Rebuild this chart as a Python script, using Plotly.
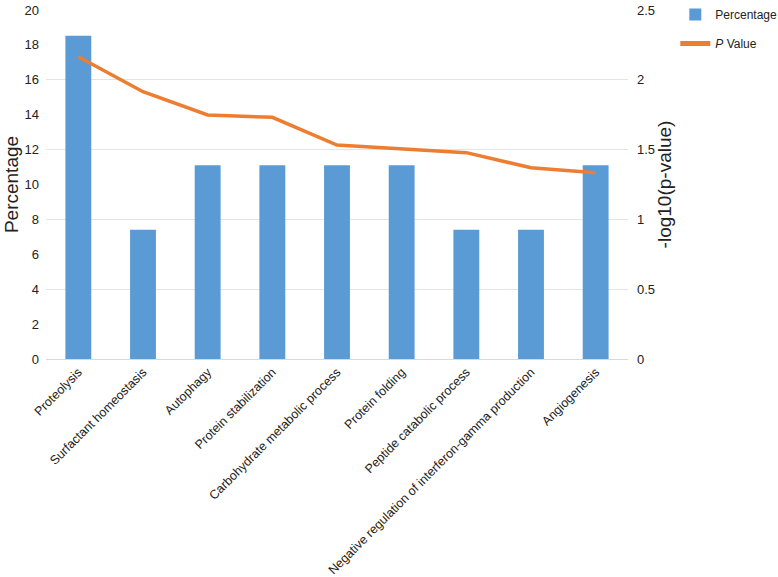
import plotly.graph_objects as go

categories = ["Proteolysis", "Surfactant homeostasis", "Autophagy", "Protein stabilization",
              "Carbohydrate metabolic process", "Protein folding", "Peptide catabolic process",
              "Negative regulation of interferon-gamma production", "Angiogenesis"]
percentage = [18.52, 7.41, 11.11, 11.11, 11.11, 11.11, 7.41, 7.41, 11.11]
neglog_p = [2.165, 1.915, 1.748, 1.731, 1.533, 1.505, 1.478, 1.37, 1.335]
right_ticks = [0, 0.5, 1, 1.5, 2, 2.5]
right_tick_text = ["0", "0.5", "1", "1.5", "2", "2.5"]

fig = go.Figure()
fig.add_trace(go.Bar(x=categories, y=percentage, name="Percentage", legendgroup="a",
                     marker=dict(color="#5B9BD5", line=dict(width=0)), width=0.4,
                     yaxis="y"))
fig.add_trace(go.Scatter(x=categories, y=neglog_p, name="<i>P</i> Value", mode="lines",
                         legendgroup="b",
                         line=dict(color="#ED7D31", width=3.5), yaxis="y2"))

fig.update_layout(
    width=778, height=577,
    margin=dict(l=46, r=150, t=10, b=218),
    paper_bgcolor="white", plot_bgcolor="white",
    font=dict(family="Liberation Sans, Arial, sans-serif", size=13, color="#222"),
    showlegend=True,
    legend=dict(xref="container", yref="container", x=0.868, y=1.012,
                xanchor="left", yanchor="top", font=dict(size=12),
                traceorder="grouped", tracegroupgap=10, itemsizing="constant",
                bgcolor="rgba(0,0,0,0)"),
    xaxis=dict(tickangle=-45, showgrid=False, showline=True, linecolor="#d9d9d9",
               linewidth=1, ticks="", tickfont=dict(size=12.5), automargin=False),
    yaxis=dict(range=[0, 20], dtick=2, showgrid=False, zeroline=False, showline=False,
               ticks="", title=dict(text="Percentage", font=dict(size=19), standoff=0),
               tickfont=dict(size=13), automargin=False, ticklabelstandoff=6),
    yaxis2=dict(range=[0, 2.5], tickvals=right_ticks, ticktext=right_tick_text,
                overlaying="y", side="right", showgrid=True,
                gridcolor="#e4e4e4", gridwidth=1, zeroline=False, showline=False, ticks="",
                title=dict(text="-log10(p-value)", font=dict(size=19), standoff=0),
                tickfont=dict(size=13), automargin=False, ticklabelstandoff=8),
)
fig.write_html("out.html", config={"displayModeBar": False},
               post_script="document.body.style.margin='0';document.body.style.padding='0';")
